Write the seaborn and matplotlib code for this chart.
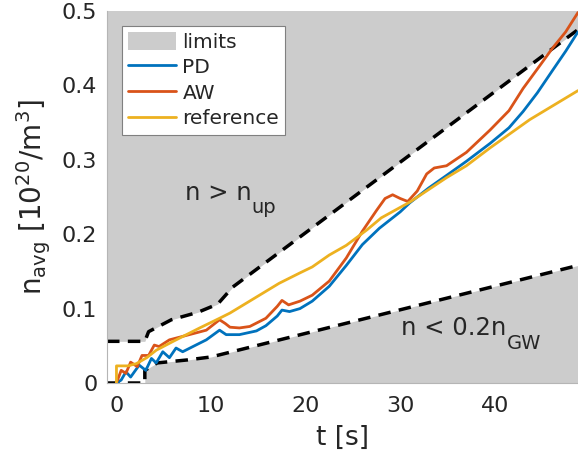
import matplotlib
matplotlib.use('Agg')
import matplotlib.pyplot as plt
import seaborn as sns
from matplotlib.patches import Patch
from matplotlib.lines import Line2D

# values: time [s], density [1e20/m^3]
t_pd = [0, 0.5, 1, 1.5, 2.4, 3.1, 3.7, 4.2, 4.9, 5.6, 6.3, 7.0, 8.4, 9.5, 10.9, 11.6,
        13, 14.8, 15.8, 17.0, 17.5, 18.3, 19.4, 20.7, 22.5, 24.3, 26, 27.8, 30, 31,
        33, 34.9, 37, 39.5, 41.5, 43, 44.5, 46.1, 47.5, 48.8]
n_pd = [0, 0.004, 0.015, 0.008, 0.024, 0.017, 0.033, 0.027, 0.042, 0.034, 0.047, 0.042,
        0.051, 0.058, 0.071, 0.065, 0.065, 0.070, 0.077, 0.090, 0.098, 0.096, 0.100,
        0.110, 0.130, 0.158, 0.186, 0.208, 0.230, 0.242, 0.262, 0.279, 0.298, 0.322,
        0.343, 0.365, 0.390, 0.420, 0.446, 0.472]

t_aw = [0, 0.5, 1, 1.5, 2.2, 2.7, 3.4, 4, 4.5, 5.6, 7.7, 9.5, 10.9, 11.5, 12, 13, 14.1,
        15.8, 17.0, 17.5, 18.2, 19.4, 20.7, 22.5, 24.3, 26, 27.5, 28.4, 29.2, 30, 30.8,
        31.8, 32.8, 33.6, 34.9, 37, 39.5, 41.5, 43, 44.5, 46.1, 47.5, 48.8]
n_aw = [0, 0.017, 0.013, 0.028, 0.022, 0.037, 0.037, 0.051, 0.049, 0.058, 0.065, 0.071,
        0.085, 0.080, 0.075, 0.074, 0.076, 0.087, 0.103, 0.111, 0.105, 0.110, 0.118,
        0.137, 0.168, 0.204, 0.232, 0.248, 0.253, 0.248, 0.244, 0.258, 0.281, 0.289,
        0.292, 0.310, 0.340, 0.366, 0.396, 0.422, 0.450, 0.472, 0.498]

t_ref = [0, 0, 1.2, 2.1, 3.2, 4.2, 6, 8.8, 10.9, 12, 14.6, 17.2, 19.4, 20.7, 22.5, 24.3,
         26.5, 28, 31, 34.9, 37, 39.5, 43.7, 48.8]
n_ref = [0, 0.023, 0.023, 0.026, 0.034, 0.044, 0.056, 0.074, 0.087, 0.094, 0.114, 0.134,
         0.148, 0.156, 0.172, 0.185, 0.206, 0.222, 0.243, 0.276, 0.292, 0.316, 0.354, 0.393]

# density limits (upper: n_up, lower: 0.2 n_GW)
t_up = [-1, 3, 3.4, 5.8, 8.6, 10.7, 12.3, 48.8]
n_up = [0.056, 0.056, 0.069, 0.085, 0.095, 0.106, 0.129, 0.475]
t_low = [-1, 3, 3, 4.3, 7.5, 10, 48.8]
n_low = [0, 0, 0.017, 0.027, 0.031, 0.035, 0.158]

xticks = [0, 10, 20, 30, 40]
yticks = [0, 0.1, 0.2, 0.3, 0.4, 0.5]

c_pd = '#0072BD'
c_aw = '#D95319'
c_ref = '#EDB120'
c_lim = '#cccccc'
c_txt = '#262626'

sns.set_style('white')
plt.rcParams['font.family'] = ['DejaVu Sans']
plt.rcParams['mathtext.fontset'] = 'dejavusans'

fig = plt.figure(figsize=(5.78, 4.53), dpi=100)
ax = fig.add_axes([107 / 578, 1 - 383 / 453, 1 - 107 / 578, (383 - 11) / 453])

ax.fill_between(t_up, n_up, 0.6, color=c_lim, lw=0, zorder=1)
ax.fill_between(t_low, 0, n_low, color=c_lim, lw=0, zorder=1)

sns.lineplot(x=t_up, y=n_up, estimator=None, sort=False, color='black', lw=2.5,
             dashes=False, ax=ax, zorder=2)
sns.lineplot(x=t_low, y=n_low, estimator=None, sort=False, color='black', lw=2.5,
             dashes=False, ax=ax, zorder=2)
for l in ax.lines:
    l.set_linestyle((0, (3.6, 2.4)))

sns.lineplot(x=t_pd, y=n_pd, estimator=None, sort=False, color=c_pd, lw=2, ax=ax, zorder=3)
sns.lineplot(x=t_aw, y=n_aw, estimator=None, sort=False, color=c_aw, lw=2, ax=ax, zorder=3)
sns.lineplot(x=t_ref, y=n_ref, estimator=None, sort=False, color=c_ref, lw=2, ax=ax, zorder=3)

ax.set_xlim(-1, 48.8)
ax.set_ylim(0, 0.5)
ax.set_xticks(xticks)
ax.set_yticks(yticks)
ax.set_yticklabels(['0', '0.1', '0.2', '0.3', '0.4', '0.5'])
ax.tick_params(length=0, labelsize=16, colors=c_txt)
ax.tick_params(axis='x', pad=9)
ax.tick_params(axis='y', pad=7)
for s in ['top', 'right']:
    ax.spines[s].set_visible(False)
for s in ['left', 'bottom']:
    ax.spines[s].set_color('#b5b5b5')
    ax.spines[s].set_linewidth(0.8)

ax.set_xlabel('t [s]', fontsize=19, color=c_txt, labelpad=7)
ax.set_ylabel(r'$\mathregular{n_{avg}\ [10^{20}/m^3]}$', fontsize=20, color=c_txt, labelpad=6)

# region labels, subscripts drawn as separate smaller text
t1 = ax.text(7.2, 0.246, 'n > n', fontsize=17.5, color=c_txt, va='baseline', zorder=4)
ax.annotate('up', xy=(1, 0), xycoords=t1, xytext=(0.5, -6), textcoords='offset points',
            fontsize=14, color=c_txt, va='baseline', ha='left', zorder=4)
t2 = ax.text(30.1, 0.064, 'n < 0.2n', fontsize=17.5, color=c_txt, va='baseline', zorder=4)
ax.annotate('GW', xy=(1, 0), xycoords=t2, xytext=(0.5, -6), textcoords='offset points',
            fontsize=14, color=c_txt, va='baseline', ha='left', zorder=4)

handles = [Patch(facecolor=c_lim, edgecolor='none'),
           Line2D([], [], color=c_pd, lw=2),
           Line2D([], [], color=c_aw, lw=2),
           Line2D([], [], color=c_ref, lw=2)]
leg = ax.legend(handles, ['limits', 'PD', 'AW', 'reference'], loc='upper left',
                bbox_to_anchor=(0.032, 0.96), borderaxespad=0, fontsize=14.5,
                fancybox=False, framealpha=1, edgecolor='#808080',
                handlelength=2.4, handleheight=1.0, handletextpad=0.3,
                labelspacing=0.28, borderpad=0.3)
leg.get_frame().set_linewidth(0.8)
leg.set_zorder(5)
for txt in leg.get_texts():
    txt.set_color(c_txt)

fig.savefig('out.png', dpi=100)
